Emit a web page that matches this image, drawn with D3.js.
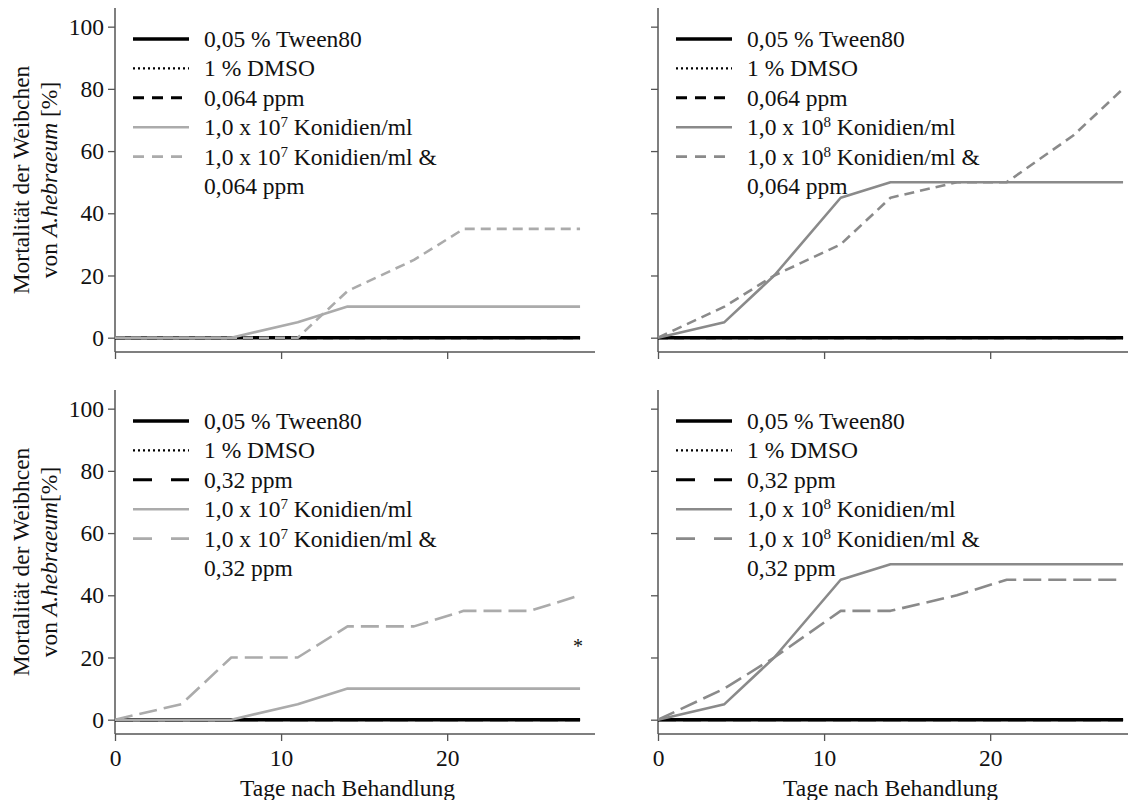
<!DOCTYPE html>
<html>
<head>
<meta charset="utf-8">
<script src="https://cdn.jsdelivr.net/npm/d3@7"></script>
<style>
  html, body { margin: 0; padding: 0; background: #fff; }
  svg { display: block; }
  svg text { font-family: "Liberation Serif", "Times New Roman", serif; }
</style>
</head>
<body>
<svg id="chart" width="1128" height="800"></svg>
<script>
// Sampling days after treatment
const days = [0, 4, 7, 11, 14, 18, 21, 25, 28];

// Controls (no mortality over the whole period)
const tween80 = [0, 0, 0, 0, 0, 0, 0, 0, 0];
const dmso = [0, 0, 0, 0, 0, 0, 0, 0, 0];
const ppm064 = [0, 0, 0, 0, 0, 0, 0, 0, 0];
const ppm032 = [0, 0, 0, 0, 0, 0, 0, 0, 0];

// Fungus alone and fungus + acaricide, mortality in %
const kon7_064 = [0, 0, 0, 5, 10, 10, 10, 10, 10];
const kon7_064_combo = [0, 0, 0, 0, 15, 25, 35, 35, 35];
const kon8_064 = [0, 5, 20, 45, 50, 50, 50, 50, 50];
const kon8_064_combo = [0, 10, 20, 30, 45, 50, 50, 65, 80];
const kon7_032 = [0, 0, 0, 5, 10, 10, 10, 10, 10];
const kon7_032_combo = [0, 5, 20, 20, 30, 30, 35, 35, 40];
const kon8_032 = [0, 5, 20, 45, 50, 50, 50, 50, 50];
const kon8_032_combo = [0, 10, 20, 35, 35, 40, 45, 45, 45];

const yTicks = [0, 20, 40, 60, 80, 100];
const xTicks = [0, 10, 20];

const svg = d3.select("#chart");
const FONT = 23.5;
const SERIF = "Liberation Serif, Times New Roman, serif";
const axisColor = "#555";
const textColor = "#111";

function label(sel) {
  return sel.attr("font-family", SERIF).style("font-size", FONT + "px").attr("fill", textColor);
}

function panel(cfg) {
  const x = d3.scaleLinear().domain([0, 28.9]).range([cfg.left, cfg.left + 480]);
  const y = d3.scaleLinear().domain([-4.6, 106]).range([cfg.bottom, cfg.bottom - 344]);
  const g = svg.append("g");

  // y axis
  const ya = g.append("g").attr("transform", `translate(${cfg.left},0)`)
    .call(d3.axisLeft(y).tickValues(yTicks).tickSize(7).tickPadding(4)
      .tickFormat(cfg.yLabels ? d3.format("d") : () => ""));
  // x axis
  const xa = g.append("g").attr("transform", `translate(0,${cfg.bottom})`)
    .call(d3.axisBottom(x).tickValues(xTicks).tickSize(7).tickPadding(8)
      .tickFormat(cfg.xLabels ? d3.format("d") : () => ""));
  [ya, xa].forEach(a => {
    a.attr("font-family", SERIF);
    a.select(".domain").attr("stroke", axisColor).attr("stroke-width", 1.5);
    a.selectAll(".tick line").attr("stroke", axisColor).attr("stroke-width", 1.3);
    label(a.selectAll(".tick text"));
  });
  // axis lines without outer ticks
  ya.select(".domain").attr("d", `M0,${y.range()[0]}V${y.range()[1]}`);
  xa.select(".domain").attr("d", `M${x.range()[0]},0H${x.range()[1]}`);

  const line = d3.line().x((d, i) => x(days[i])).y(d => y(d));

  // black controls first, grey treatments on top
  cfg.series.forEach(s => {
    g.append("path").datum(s.values)
      .attr("d", line)
      .attr("fill", "none")
      .attr("stroke", s.color)
      .attr("stroke-width", s.width)
      .attr("stroke-dasharray", s.dash || null)
      .attr("stroke-linejoin", "round");
  });

  // legend
  const lg = g.append("g");
  const lx0 = cfg.left + 18, lx1 = cfg.left + 74, tx = cfg.left + 89;
  const ly0 = cfg.bottom - 313, step = 29.4;
  cfg.series.forEach((s, i) => {
    const yy = ly0 + i * step;
    lg.append("line").attr("x1", lx0).attr("x2", lx1).attr("y1", yy).attr("y2", yy)
      .attr("stroke", s.color).attr("stroke-width", s.width)
      .attr("stroke-dasharray", s.legendDash || s.dash || null);
    const t = label(lg.append("text").attr("x", tx).attr("y", yy + 8));
    s.label.forEach(part => {
      const sp = t.append("tspan").text(part.t);
      if (part.sup) sp.attr("dy", -8).style("font-size", "15px");
      if (part.after) sp.attr("dy", 8);
    });
    if (s.label2) {
      label(lg.append("text").attr("x", tx).attr("y", yy + step + 8)).text(s.label2);
    }
  });

  // y axis title
  if (cfg.yTitle) {
    const cy = cfg.bottom - 172;
    label(g.append("text").attr("transform", `translate(29,${cy}) rotate(-90)`)
      .attr("text-anchor", "middle")).text(cfg.yTitle[0]);
    const t2 = label(g.append("text").attr("transform", `translate(57,${cy}) rotate(-90)`)
      .attr("text-anchor", "middle"));
    t2.append("tspan").text("von ");
    t2.append("tspan").text("A.").style("font-style", "italic");
    t2.append("tspan").text("hebraeum").style("font-style", "italic");
    t2.append("tspan").text(cfg.yTitle[1]);
  }
  if (cfg.xLabels) {
    label(g.append("text").attr("x", (x.range()[0] + x(28)) / 2).attr("y", cfg.bottom + 62)
      .attr("text-anchor", "middle")).text("Tage nach Behandlung");
  }
  return { x, y, g };
}

const lightGrey = "#ababab", darkGrey = "#8a8a8a";
const shortDash = "10,6", longDash = "18,7";

function ctrlSeries(doseLabel, doseValues, doseDash, doseLegendDash) {
  return [
    { values: tween80, color: "#000", width: 3.4, label: [{ t: "0,05 % Tween80" }] },
    { values: dmso, color: "#000", width: 2.2, dash: "2,3", label: [{ t: "1 % DMSO" }] },
    { values: doseValues, color: "#000", width: 3, dash: doseDash, legendDash: doseLegendDash,
      label: [{ t: doseLabel }] }
  ];
}
function fungus(exp, vals, comboVals, color, dash, legendDash, doseLabel) {
  return [
    { values: vals, color, width: 2.6,
      label: [{ t: "1,0 x 10" }, { t: exp, sup: true }, { t: " Konidien/ml", after: true }] },
    { values: comboVals, color, width: 2.6, dash, legendDash,
      label: [{ t: "1,0 x 10" }, { t: exp, sup: true }, { t: " Konidien/ml &", after: true }],
      label2: doseLabel }
  ];
}

panel({
  left: 115, bottom: 352, yLabels: true, xLabels: false,
  yTitle: ["Mortalität der Weibchen", " [%]"],
  series: ctrlSeries("0,064 ppm", ppm064, shortDash, "11,8")
    .concat(fungus("7", kon7_064, kon7_064_combo, lightGrey, shortDash, "11,8", "0,064 ppm"))
});
panel({
  left: 658, bottom: 352, yLabels: false, xLabels: false,
  series: ctrlSeries("0,064 ppm", ppm064, shortDash, "11,8")
    .concat(fungus("8", kon8_064, kon8_064_combo, darkGrey, shortDash, "11,8", "0,064 ppm"))
});
const bl = panel({
  left: 115, bottom: 734, yLabels: true, xLabels: true,
  yTitle: ["Mortalität der Weibhcen", "[%]"],
  series: ctrlSeries("0,32 ppm", ppm032, longDash, "19,19")
    .concat(fungus("7", kon7_032, kon7_032_combo, lightGrey, longDash, "19,19", "0,32 ppm"))
});
panel({
  left: 658, bottom: 734, yLabels: false, xLabels: true,
  series: ctrlSeries("0,32 ppm", ppm032, longDash, "19,19")
    .concat(fungus("8", kon8_032, kon8_032_combo, darkGrey, longDash, "19,19", "0,32 ppm"))
});

// significance marker at the last sampling day
label(bl.g.append("text").attr("x", bl.x(28) - 2).attr("y", bl.y(24.5) + 10)
  .attr("text-anchor", "middle")).style("font-size", "20px").text("*");
</script>
</body>
</html>
